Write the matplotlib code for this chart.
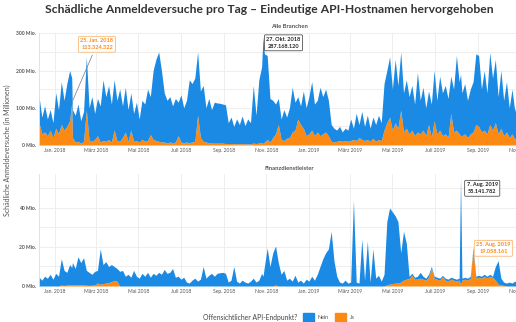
import matplotlib
matplotlib.use("Agg")
import matplotlib.pyplot as plt
import matplotlib.dates as mdates
from matplotlib.patches import Rectangle
from matplotlib.ticker import FuncFormatter, MultipleLocator
import pandas as pd

BLAU = "#1a8ae4"
ORANGE = "#fc8a12"

plt.rcParams["font.family"] = ["Lato", "DejaVu Sans"]

# Stützwerte alle 4 Tage ab dem 9. Dez. 2017, Angaben in Mio.
start = "2017-12-09"

alle_nein = [
    70, 45, 70, 45, 55, 40, 95, 65, 115, 80,
    115, 135, 75, 72, 100, 60, 80, 143, 88, 120,
    70, 100, 97, 163, 120, 145, 102, 135, 108, 140,
    85, 120, 85, 100, 75, 103, 62, 105, 100, 138,
    102, 185, 218, 240, 192, 132, 114, 122, 99, 117,
    90, 127, 94, 112, 169, 157, 170, 170, 125, 150,
    92, 119, 90, 110, 108, 107, 105, 104, 56, 71,
    47, 66, 52, 74, 49, 67, 57, 155, 76, 170,
    204, 237, 225, 117, 100, 80, 70, 55, 83, 57,
    80, 120, 75, 60, 50, 100, 75, 100, 130, 85,
    85, 130, 100, 115, 95, 45, 37, 30, 38, 25,
    33, 30, 58, 30, 73, 35, 75, 38, 65, 35,
    57, 45, 65, 48, 125, 140, 162, 110, 170, 115,
    156, 105, 130, 100, 120, 85, 160, 90, 115, 75,
    90, 90, 135, 90, 145, 115, 130, 105, 100, 115,
    200, 140, 115, 135, 100, 120, 135, 190, 190, 115,
    160, 110, 193, 140, 170, 100, 155, 95, 135, 80,
    120, 75, 105, 68, 90,
]
alle_ja = [
    60, 30, 35, 25, 40, 20, 45, 30, 55, 40,
    50, 65, 20, 8, 10, 5, 10, 94, 12, 10,
    15, 25, 8, 12, 10, 15, 8, 40, 12, 10,
    20, 35, 10, 40, 10, 12, 8, 15, 10, 12,
    28, 15, 12, 10, 8, 8, 6, 8, 6, 8,
    25, 8, 6, 8, 6, 8, 10, 80, 20, 10,
    8, 6, 5, 5, 5, 5, 5, 4, 4, 4,
    3, 4, 3, 4, 3, 3, 3, 5, 4, 5,
    6, 8, 15, 8, 20, 30, 55, 15, 12, 18,
    20, 35, 40, 70, 55, 45, 25, 30, 40, 25,
    35, 25, 30, 35, 25, 10, 8, 10, 12, 10,
    12, 10, 12, 15, 12, 20, 15, 12, 15, 10,
    18, 10, 15, 12, 40, 60, 75, 40, 60, 45,
    94, 35, 45, 30, 40, 25, 35, 30, 40, 25,
    55, 20, 65, 30, 40, 25, 30, 20, 85, 35,
    40, 30, 25, 30, 20, 30, 35, 55, 50, 35,
    40, 30, 55, 40, 60, 30, 45, 25, 35, 20,
    30, 15, 25, 12, 20,
]
fin_nein = [
    4.5, 3, 5, 4, 6, 3.5, 6.5, 5, 13.5, 7.7,
    6.5, 10.4, 11.5, 8.4, 14.2, 11.4, 14, 7.6, 6.7, 5.6,
    7, 6.5, 18, 9.8, 11, 8.2, 8.8, 7.1, 6.5, 7.5,
    8, 5, 6, 4.5, 8, 5, 4, 6.5, 5, 7,
    4.5, 6.5, 5.5, 7, 6, 8.5, 6.5, 7, 9, 4.5,
    5, 3.5, 4.5, 2, 1.5, 3, 4, 2.5, 3.5, 10,
    4, 5.5, 6.5, 5, 6.5, 6.8, 7, 6.5, 2, 3,
    10, 2.5, 1.5, 3, 2, 1.5, 2.5, 4, 2, 3,
    6.5, 10, 19.5, 10, 17, 20, 12, 6, 8, 3,
    4, 2.5, 5.5, 2, 3, 1.5, 3.5, 2.5, 5, 3,
    6, 10, 14, 17, 19, 28, 13, 5, 2, 1.5,
    3, 1.5, 2, 44, 2, 1.5, 24, 3, 23, 2,
    19, 4, 5.5, 2.5, 6, 32.5, 39, 36.8, 34.5, 31.5,
    15, 25, 18.5, 1.2, 1, 1, 1.5, 3, 1.5, 1,
    1.5, 1, 1, 1, 1, 0.7, 1, 1, 1, 1,
    1, 1, 1, 1, 1, 1, 0.9, 1, 1, 1,
    1, 1, 1, 0.5, 7, 12, 3.5, 1.7, 1.5, 2,
    1.5, 2.5, 1.5, 2, 1.5,
]
fin_ja = [
    0, 0, 0, 0, 0, 0, 0, 0, 0.5, 0.3,
    0.5, 0.6, 0.5, 0.6, 0.8, 0.6, 0.5, 0.4, 0.3, 0.4,
    0.5, 1.5, 1.0, 1.2, 1.5, 1.8, 2.2, 2.9, 2.5, 0,
    0, 0, 0, 0, 0, 0, 0, 0, 0, 0,
    0, 0, 0, 0, 0, 0, 0, 0, 0, 0,
    0, 0, 0, 0, 0, 0, 0, 0, 0, 0,
    0, 0, 0, 0, 0, 0, 0, 0, 0, 0,
    0, 0, 0, 0, 0, 0, 0, 0, 0, 0,
    0, 0, 0, 0, 0, 0.5, 0, 0, 0, 0,
    0, 0, 0, 0, 0, 0, 0, 0, 0, 0,
    0, 0, 0, 0, 0, 0, 0, 0, 0, 0,
    0, 0, 0, 0, 0, 0, 0, 0, 0, 0,
    0, 0, 0, 0, 0, 0.5, 1, 1.2, 1.5, 1.5,
    2, 3, 3.5, 3.8, 5.5, 3.5, 3.5, 4, 3.5, 3,
    4.5, 9, 4, 3.5, 3, 4.8, 3, 2.5, 3.5, 3,
    2.5, 3, 3, 3.5, 3, 4, 19.1, 4, 4.5, 4,
    5, 4, 5, 4.5, 3, 1, 0.5, 0.3, 0, 0,
    0, 0, 0, 0, 0,
]

# hervorgehobene Tage mit genauen Werten
markiert_daten = ["2018-01-25", "2018-10-27", "2019-08-07", "2019-08-25"]
alle_nein_markiert = [67, 287.168120, 165, 135]
alle_ja_markiert = [113.324322, 4, 25, 35]
fin_nein_markiert = [9, 5, 55.141782, 0.9]
fin_ja_markiert = [0.5, 0, 0.8, 19.058161]

monate = {1: "Jan.", 3: "März", 5: "Mai", 7: "Juli", 9: "Sep.", 11: "Nov."}


def reihe(werte, markiert):
    s = pd.Series(werte, index=pd.date_range(start, periods=len(werte), freq="4D"), dtype=float)
    for d, v in zip(markiert_daten, markiert):
        s[pd.Timestamp(d)] = v
    return s.sort_index()


def monat_label(x, pos):
    d = mdates.num2date(x)
    return f"{monate.get(d.month, '')} {d.year}"


def panel(ax, nein, ja, ymax, schritt, labels):
    x = nein.index
    ax.fill_between(x, 0, ja.values, color=ORANGE, lw=0, zorder=2)
    ax.fill_between(x, ja.values, ja.values + nein.values, color=BLAU, lw=0, zorder=2)
    ax.set_xlim(pd.Timestamp("2017-12-09 10:00"), pd.Timestamp("2019-11-29"))
    ax.set_ylim(0, ymax)
    ax.xaxis.set_major_locator(mdates.MonthLocator(bymonth=[1, 3, 5, 7, 9, 11]))
    ax.xaxis.set_major_formatter(FuncFormatter(monat_label))
    ax.yaxis.set_major_locator(MultipleLocator(schritt))
    ax.yaxis.set_major_formatter(FuncFormatter(
        lambda v, p: f"{v:.0f} Mio." if round(v) in labels else ""))
    ax.grid(True, color="#ebebeb", lw=0.6, zorder=0)
    for s in ["top", "right", "bottom"]:
        ax.spines[s].set_visible(False)
    ax.spines["left"].set_color("#dddddd")
    ax.spines["left"].set_linewidth(0.6)
    ax.tick_params(length=0, labelsize=3.6, colors="#555555", pad=2.5)
    for t in ax.get_yticklabels():
        t.set_fontweight("bold")


fig = plt.figure(figsize=(5.16, 3.22), dpi=100)
ax1 = fig.add_axes([0.0762, 0.5497, 0.970, 0.3469])
ax2 = fig.add_axes([0.0762, 0.1118, 0.970, 0.3478])

panel(ax1, reihe(alle_nein, alle_nein_markiert), reihe(alle_ja, alle_ja_markiert),
      300, 50, [0, 100, 200, 300])
panel(ax2, reihe(fin_nein, fin_nein_markiert), reihe(fin_ja, fin_ja_markiert),
      57.4, 10, [0, 20, 40])

fig.text(0.521, 0.972, "Schädliche Anmeldeversuche pro Tag – Eindeutige API-Hostnamen hervorgehoben",
         ha="center", va="center", fontsize=8.7, fontweight="bold", color="#333333")
fig.text(289 / 516, 1 - 27 / 322, "Alle Branchen", ha="center", va="center",
         fontsize=4.2, fontweight="bold", color="#555555")
fig.text(289 / 516, 1 - 168 / 322, "Finanzdienstleister", ha="center", va="center",
         fontsize=4.2, fontweight="bold", color="#555555")
fig.text(7 / 516, 1 - 150 / 322, "Schädliche Anmeldeversuche (in Millionen)", rotation=90,
         ha="center", va="center", fontsize=5, color="#555555")


def hinweis(ax, datum, wert, text, xy_fig, farbe, rand, linie=False):
    ax.annotate(text, xy=(pd.Timestamp(datum), wert), xytext=xy_fig, textcoords="figure fraction",
                ha="center", va="center", fontsize=4, fontweight="bold", color=farbe,
                linespacing=1.5, zorder=5,
                bbox=dict(boxstyle="round,pad=0.35,rounding_size=0.2", fc="white", ec=rand, lw=0.6),
                arrowprops=dict(arrowstyle="-", color="#777777", lw=0.5) if linie else None)


hinweis(ax1, markiert_daten[0], alle_ja_markiert[0], "25. Jan. 2018\n113.324.322",
        (97 / 516, 1 - 44.3 / 322), ORANGE, "#f9b77a", linie=True)
hinweis(ax1, markiert_daten[1], alle_nein_markiert[1], "27. Okt. 2018\n287.168.120",
        (283.5 / 516, 1 - 42.8 / 322), "#222222", "#555555")
hinweis(ax2, markiert_daten[2], fin_nein_markiert[2], "7. Aug. 2019\n55.141.782",
        (482.2 / 516, 1 - 188.3 / 322), "#222222", "#555555")
hinweis(ax2, markiert_daten[3], fin_ja_markiert[3], "25. Aug. 2019\n19.058.161",
        (493.5 / 516, 1 - 248.3 / 322), ORANGE, "#f9b77a")

# Legende unten
fig.text(297 / 516, 1 - 317.5 / 322, "Offensichtlicher API-Endpunkt?", ha="right", va="center",
         fontsize=4.9, color="#444444")
fig.patches.append(Rectangle((303 / 516, 1 - 322 / 322), 11 / 516, 9 / 322,
                             transform=fig.transFigure, color=BLAU))
fig.text(318 / 516, 1 - 317.5 / 322, "Nein", ha="left", va="center", fontsize=3.8, color="#444444")
fig.patches.append(Rectangle((335 / 516, 1 - 322 / 322), 11 / 516, 9 / 322,
                             transform=fig.transFigure, color=ORANGE))
fig.text(350 / 516, 1 - 317.5 / 322, "Ja", ha="left", va="center", fontsize=3.8, color="#444444")

fig.savefig("out.png", dpi=100, facecolor="white")
